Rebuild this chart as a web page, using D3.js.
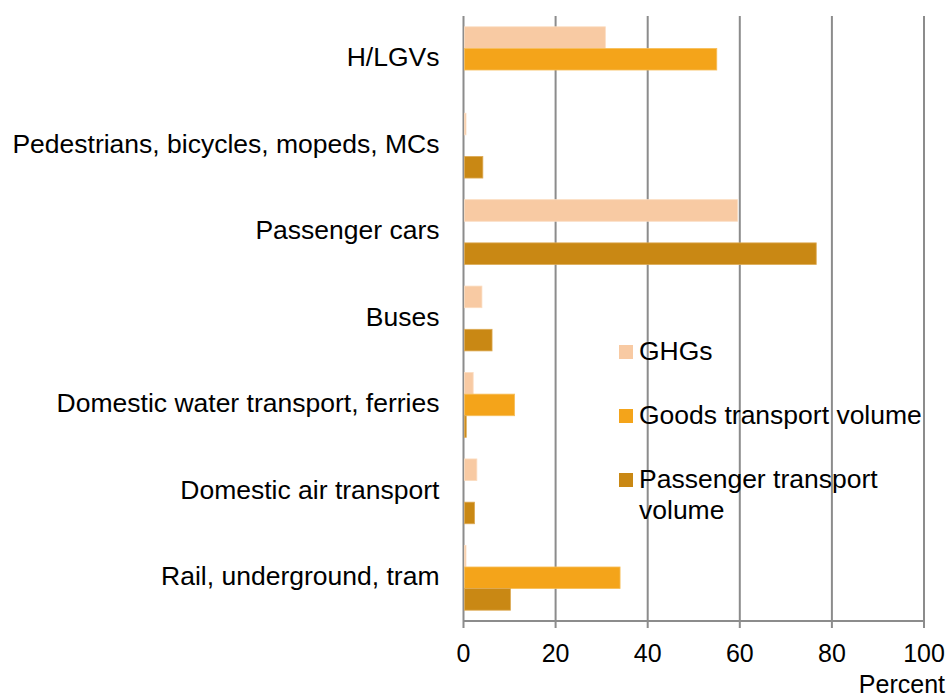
<!DOCTYPE html>
<html>
<head>
<meta charset="utf-8">
<script src="https://cdn.jsdelivr.net/npm/d3@7"></script>
<style>
  body { margin: 0; background: #fff; }
  text { font-family: "Liberation Sans", Arial, sans-serif; fill: #000; }
</style>
</head>
<body>
<div id="chart"></div>
<script>
// categories top to bottom
var categories = ["H/LGVs", "Pedestrians, bicycles, mopeds, MCs", "Passenger cars", "Buses",
    "Domestic water transport, ferries", "Domestic air transport", "Rail, underground, tram"];
var seriesNames = ["GHGs", "Goods transport volume", "Passenger transport volume"];
var ghgs = [30.8, 0.5, 59.5, 4.0, 2.1, 2.9, 0.4];
var goods = [55.0, 0, 0, 0, 11.1, 0, 34.0];
var passenger = [0, 4.2, 76.6, 6.2, 0.6, 2.4, 10.2];
var xTicks = [0, 20, 40, 60, 80, 100];

var colors = ["#f8caa3", "#f4a41a", "#c98814"];
var strokes = ["#fbdcc0", "#f7bf5c", "#ddaa55"];

var width = 949, height = 700;
var margin = { top: 16, right: 25, bottom: 79, left: 463.5 };
var w = width - margin.left - margin.right,
    h = height - margin.top - margin.bottom;

var svg = d3.select("#chart").append("svg")
    .attr("width", width)
    .attr("height", height);

var g = svg.append("g")
    .attr("transform", "translate(" + margin.left + "," + margin.top + ")");

var x = d3.scaleLinear().domain([0, 100]).range([0, w]);
var y = d3.scaleBand().domain(categories).range([0, h]).paddingInner(0.25).paddingOuter(0.125);
var ySub = d3.scaleBand().domain(seriesNames).range([0, y.bandwidth()]);

// gridlines
g.selectAll(".grid")
    .data(xTicks)
    .enter().append("line")
    .attr("x1", function (d) { return x(d); })
    .attr("x2", function (d) { return x(d); })
    .attr("y1", 0)
    .attr("y2", h + 7)
    .style("stroke", "#8c8c8c")
    .style("stroke-width", 2);

// bars
var rows = categories.map(function (c, i) {
    return { cat: c, values: [ghgs[i], goods[i], passenger[i]] };
});

var groups = g.selectAll(".cat")
    .data(rows)
    .enter().append("g")
    .attr("transform", function (d) { return "translate(0," + y(d.cat) + ")"; });

groups.selectAll("rect")
    .data(function (d) {
        return d.values.map(function (v, j) { return { name: seriesNames[j], value: v, j: j }; })
            .filter(function (e) { return e.value > 0; });
    })
    .enter().append("rect")
    .attr("x", x(0) + 1)
    .attr("y", function (d) { return ySub(d.name); })
    .attr("width", function (d) { return Math.max(x(d.value) - x(0) - 1, 1.5); })
    .attr("height", ySub.bandwidth())
    .style("fill", function (d) { return colors[d.j]; })
    .style("stroke", function (d) { return strokes[d.j]; })
    .style("stroke-width", 0.8);

// x axis line
g.append("line")
    .attr("x1", x(0)).attr("x2", x(100))
    .attr("y1", h).attr("y2", h)
    .style("stroke", "#8c8c8c")
    .style("stroke-width", 2);

// tick labels
g.selectAll(".tick-label")
    .data(xTicks)
    .enter().append("text")
    .attr("x", function (d) { return x(d); })
    .attr("y", h + 41)
    .attr("text-anchor", "middle")
    .style("font-size", "25px")
    .text(function (d) { return d; });

svg.append("text")
    .attr("x", 945)
    .attr("y", 693)
    .attr("text-anchor", "end")
    .style("font-size", "25px")
    .text("Percent");

// category labels
g.selectAll(".cat-label")
    .data(categories)
    .enter().append("text")
    .attr("x", -24)
    .attr("y", function (d) { return y(d) + y.bandwidth() / 2 - 2; })
    .attr("dy", "0.35em")
    .attr("text-anchor", "end")
    .style("font-size", "26.5px")
    .text(function (d) { return d; });

// legend
var legendY = [352, 416, 480];
var legend = svg.selectAll(".legend")
    .data(seriesNames)
    .enter().append("g")
    .attr("transform", function (d, i) { return "translate(619," + legendY[i] + ")"; });

legend.append("rect")
    .attr("x", 0).attr("y", -7)
    .attr("width", 14).attr("height", 14)
    .style("fill", function (d, i) { return colors[i]; });

legend.append("text")
    .attr("x", 20)
    .attr("y", 8)
    .style("font-size", "26.5px")
    .each(function (d, i) {
        var t = d3.select(this);
        if (i === 2) {
            t.append("tspan").attr("x", 20).text("Passenger transport");
            t.append("tspan").attr("x", 20).attr("dy", 31).text("volume");
        } else {
            t.text(d);
        }
    });
</script>
</body>
</html>
